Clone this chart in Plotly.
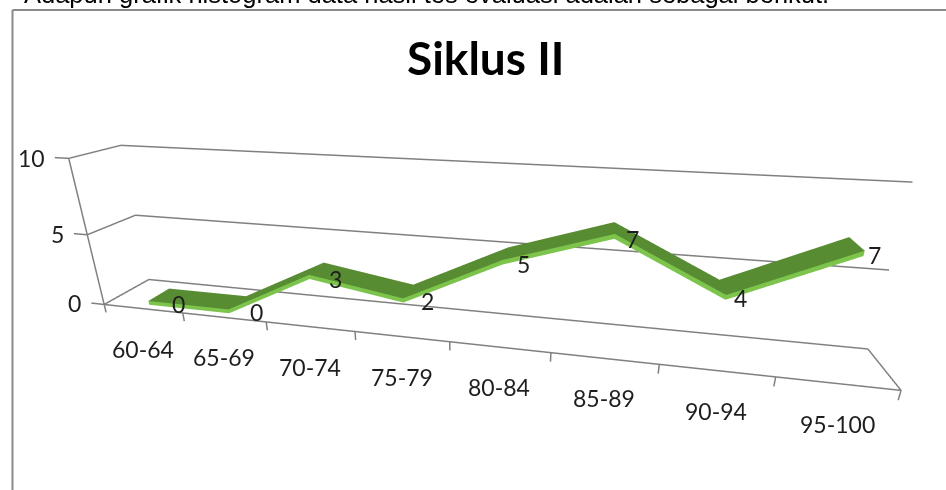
import plotly.graph_objects as go

# Score intervals and number of students in each (cycle II)
categories = ["60-64", "65-69", "70-74", "75-79", "80-84", "85-89", "90-94", "95-100"]
values = [0, 0, 3, 2, 5, 7, 4, 7]
z_ticks = [0, 5, 10]

title_text = "Siklus II"
caption_text = "Adapun grafik histogram data hasil tes evaluasi adalah sebagai berikut."

n = len(categories)
xs = list(range(n))

# chart box (floor / walls) in data units
x_lo, x_hi = -0.5, n - 0.5
y_lo, y_hi = 0.0, 1.0
z_top = max(z_ticks)
tick_len = 0.17

# scene ranges: a little room around the box so edge lines are not clipped
rx = [x_lo - 0.3, x_hi + 0.02]
ry = [y_lo, y_hi + 0.02]
rz = [-0.8, z_top + 0.4]
unit_x, unit_y, unit_z = 0.65, 0.46, 0.108     # aspect per data unit

grid_col = "#808080"
top_col = "#578c33"
edge_col = "#7cc44b"
font_fam = "Lato"
text_col = "#1e1e1e"

# ---- ribbon (top face + thin front face) ----
yf, yb = 0.14, 0.62          # ribbon depth span
th = 0.28                    # ribbon thickness
vx, vy, vz = [], [], []
for x, v in zip(xs, values):
    vx += [x, x, x]
    vy += [yf, yb, yf]
    vz += [v + th, v + th, v]
I, J, K, fc = [], [], [], []
for s in range(n - 1):
    a, b = 3 * s, 3 * (s + 1)
    I += [a, a + 1]; J += [a + 1, b + 1]; K += [b, b]; fc += [top_col, top_col]
    I += [a + 2, a]; J += [a, b]; K += [b + 2, b + 2]; fc += [edge_col, edge_col]

ribbon = go.Mesh3d(
    x=vx, y=vy, z=vz, i=I, j=J, k=K, facecolor=fc, flatshading=True,
    lighting=dict(ambient=1.0, diffuse=0.0, specular=0.0, roughness=1.0, fresnel=0.0),
    hoverinfo="skip", showscale=False,
)

# ---- walls, floor edges and ticks ----
def seg(xa, ya, za, xb, yb_, zb):
    return [xa, xb, None], [ya, yb_, None], [za, zb, None]

segs = [
    seg(x_lo, y_lo, 0, x_hi, y_lo, 0),        # front floor edge
    seg(x_hi, y_lo, 0, x_hi, y_hi, 0),        # right floor edge
    seg(x_lo, y_lo, 0, x_lo, y_lo, z_top),    # value axis
]
for zt in z_ticks:
    segs.append(seg(x_lo, y_hi, zt, x_hi, y_hi, zt))          # back wall grid
    segs.append(seg(x_lo, y_lo, zt, x_lo, y_hi, zt))          # side wall grid
    segs.append(seg(x_lo, y_lo, zt, x_lo - tick_len, y_lo, zt))  # tick
for k in range(n + 1):                                          # category ticks
    segs.append(seg(k - 0.5, y_lo, 0, k - 0.5, y_lo, -0.6))

fx, fy, fz = [], [], []
for s in segs:
    fx += s[0]; fy += s[1]; fz += s[2]

frame = go.Scatter3d(
    x=fx, y=fy, z=fz, mode="lines",
    line=dict(color=grid_col, width=3),
    hoverinfo="skip", showlegend=False,
)

fig = go.Figure([frame, ribbon])

axis_common = dict(
    showbackground=False, showspikes=False, zeroline=False, showline=False,
    showgrid=False, ticks="", title=dict(text=""), showticklabels=False,
)

lab_font = dict(family=font_fam, size=23, color=text_col)
scene_ann = []
y_mid = (yf + yb) / 2
for x, v in zip(xs, values):                 # value labels
    scene_ann.append(dict(x=x, y=y_mid, z=v, text=str(v), showarrow=False,
                          xanchor="left", yanchor="middle", xshift=10, yshift=-6,
                          font=lab_font))
for x, c in zip(xs, categories):             # category labels
    scene_ann.append(dict(x=x, y=y_lo, z=0, text=c, showarrow=False,
                          xanchor="center", yanchor="middle", yshift=-40,
                          font=lab_font))
for zt in z_ticks:                           # value-axis labels
    scene_ann.append(dict(x=x_lo - tick_len, y=y_lo, z=zt, text=str(zt),
                          showarrow=False, xanchor="right", yanchor="middle",
                          xshift=-8, font=lab_font))

# camera: yaw 12 deg, pitch 20.5 deg
dist = 3.95
dir_ = (0.1947, -0.9159, 0.3502)
cen = (0.166, 0.135, 0.018)
eye = tuple(c + dist * d for c, d in zip(cen, dir_))

fig.update_layout(
    width=946, height=490,
    margin=dict(l=0, r=0, t=0, b=0),
    paper_bgcolor="white",
    showlegend=False,
    scene=dict(
        domain=dict(x=[0, 1], y=[0, 1]),
        xaxis=dict(range=rx, **axis_common),
        yaxis=dict(range=ry, **axis_common),
        zaxis=dict(range=rz, **axis_common),
        aspectmode="manual",
        aspectratio=dict(x=unit_x * (rx[1] - rx[0]), y=unit_y * (ry[1] - ry[0]),
                         z=unit_z * (rz[1] - rz[0])),
        camera=dict(
            eye=dict(x=eye[0], y=eye[1], z=eye[2]),
            center=dict(x=cen[0], y=cen[1], z=cen[2]),
            up=dict(x=0, y=0, z=1),
            projection=dict(type="perspective"),
        ),
        annotations=scene_ann,
    ),
    annotations=[
        dict(text=title_text, x=485 / 946, y=1 - 58 / 490, xref="paper", yref="paper",
             xanchor="center", yanchor="middle", showarrow=False,
             font=dict(family=font_fam, size=46, color="#000000", weight="bold")),
        dict(text=caption_text, x=22 / 946, y=1 - 10 / 490, xref="paper", yref="paper",
             xanchor="left", yanchor="bottom", showarrow=False,
             font=dict(family="Liberation Sans", size=25.5, color="#000000")),
    ],
    shapes=[
        dict(type="line", xref="paper", yref="paper", x0=12.5 / 946, x1=1,
             y0=1 - 10 / 490, y1=1 - 10 / 490, line=dict(color="#8a8a8a", width=2)),
        dict(type="line", xref="paper", yref="paper", x0=12.5 / 946, x1=12.5 / 946,
             y0=1 - 10 / 490, y1=0, line=dict(color="#8a8a8a", width=2)),
    ],
)

fig.write_html("out.html")
